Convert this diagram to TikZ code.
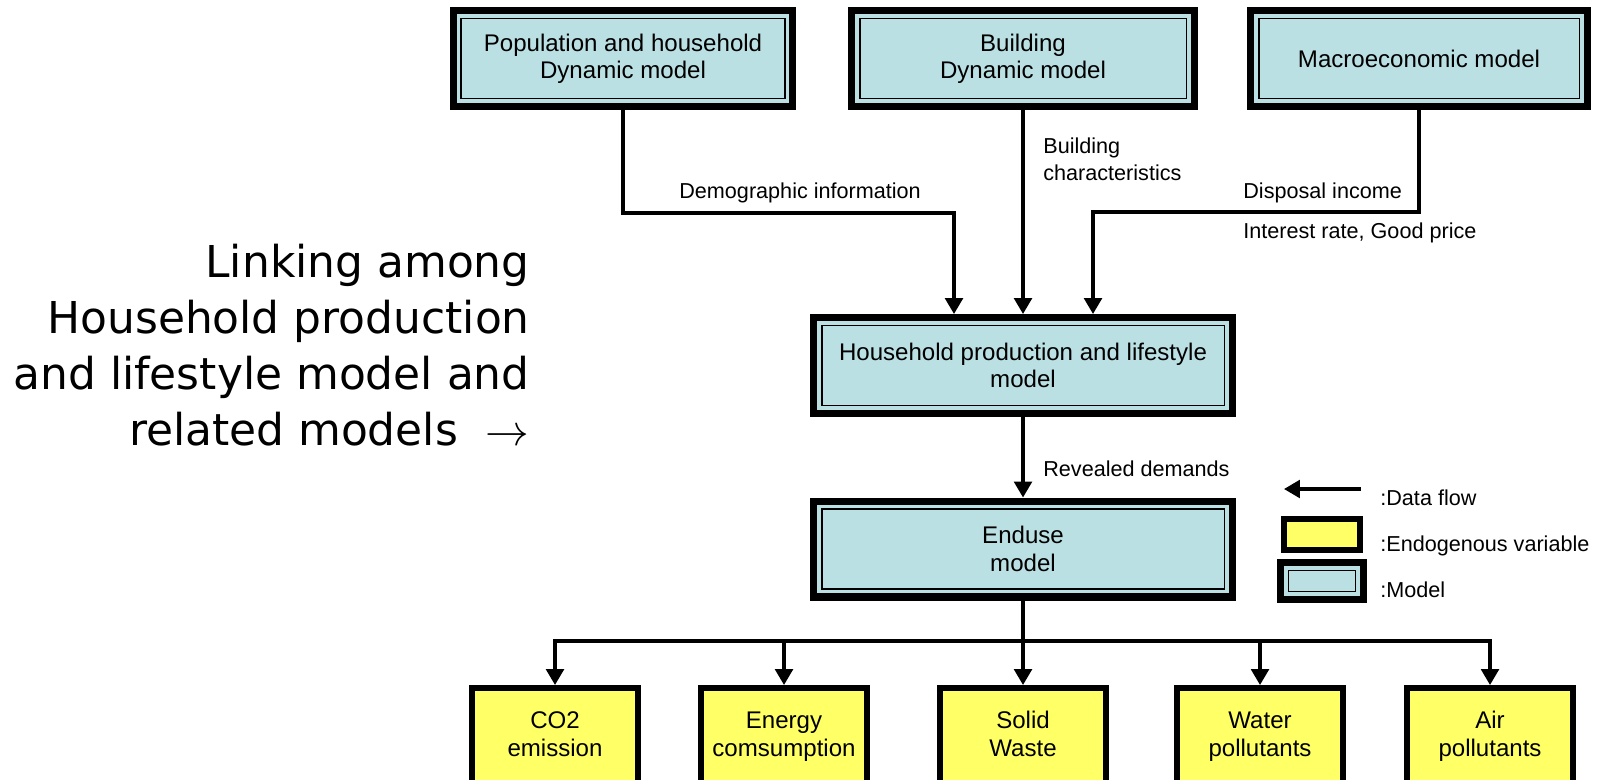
\documentclass[tikz,border=0pt]{standalone}
\usepackage{fontspec}
\setmainfont{Liberation Sans}
\newfontfamily\handfont{DejaVu Sans}
\usetikzlibrary{arrows.meta}

\definecolor{modelblue}{RGB}{186,224,227}
\definecolor{endoyellow}{RGB}{255,255,102}

\tikzset{
  model/.style={draw,line width=4pt,fill=modelblue,minimum height=1.92cm,
    align=center,inner sep=0pt,font=\fontsize{13.7}{15.6}\selectfont,
    path picture={\draw[line width=1.1pt]
      ([shift={(0.16cm,0.16cm)}]path picture bounding box.south west) rectangle
      ([shift={(-0.16cm,-0.16cm)}]path picture bounding box.north east);}},
  endo/.style={draw,line width=3.4pt,fill=endoyellow},
  outcome/.style={endo,anchor=north,minimum width=3.32cm,align=center,inner sep=0pt,
    text height=38.8pt,text depth=60pt,font=\fontsize{13.7}{15.6}\selectfont},
  flow/.style={line width=1.9pt,->},
  lbl/.style={anchor=west,align=left,inner sep=0pt,font=\fontsize{12.3}{15.3}\selectfont}
}

\begin{document}
\begin{tikzpicture}[>={Triangle[width=10pt,length=9pt]},x=0.02cm,y=-0.02cm]
\useasboundingbox (0,0) rectangle (1598,779);
\clip (0,0) rectangle (1598,779);

\node[font=\handfont\fontsize{25}{31.8}\selectfont,align=right,anchor=east,inner sep=0pt]
  (title) at (530,345) {Linking among\\Household production\\and lifestyle model and\\related models~~$\rightarrow$};

% models
\node[model,minimum width=6.8cm] (pop) at (623,58.5) {Population and household\\Dynamic model};
\node[model,minimum width=6.86cm] (bld) at (1023,58.5) {Building\\Dynamic model};
\node[model,minimum width=6.74cm] (mac) at (1419,58.5) {Macroeconomic model};
\node[model,minimum width=8.38cm] (hh) at (1023,365.5) {Household production and lifestyle\\model};
\node[model,minimum width=8.38cm] (end) at (1023,549) {Enduse\\model};

% endogenous variables
\foreach \n/\x/\txt in {co2/555/{CO2\\emission},energy/784/{Energy\\comsumption},
    waste/1023/{Solid\\Waste},water/1260/{Water\\pollutants},air/1490/{Air\\pollutants}} {
  \node[outcome] (\n) at (\x,685) {\txt};
}

% data flows
\coordinate (demo) at (954,213);
\coordinate (inc) at (1093,212);
\coordinate (bus) at (1023,641);
\draw[flow] (pop) |- (demo) -- (demo |- hh.north);
\draw[flow] (bld) -- (hh);
\draw[flow] (mac) |- (inc) -- (inc |- hh.north);
\draw[flow] (hh) -- (end);
\foreach \n in {co2,energy,waste,water,air} {
  \draw[flow] (end) |- (\n |- bus) -- (\n);
}

\node[lbl] (demolbl) at (679,193) {Demographic information};
\node[lbl] (bldlbl) at (1043,159) {Building\\characteristics};
\node[lbl] (inclbl) at (1243,193) {Disposal income};
\node[lbl] (ratelbl) at (1243,233) {Interest rate, Good price};
\node[lbl] (revlbl) at (1043,469) {Revealed demands};

% key
\coordinate (keytail) at (1361,489);
\coordinate (keyhead) at (1284,489);
\draw[flow] (keytail) -- (keyhead);
\node[endo,minimum width=1.52cm,minimum height=0.62cm] (keyendo) at (1322,534.5) {};
\node[model,minimum width=1.66cm,minimum height=0.74cm] (keymodel) at (1322,581) {};
\node[lbl] (keyflowlbl) at (1380,498) {:Data flow};
\node[lbl] (keyendolbl) at (1380,546) {:Endogenous variable};
\node[lbl] (keymodellbl) at (1380,590) {:Model};
\end{tikzpicture}
\end{document}
